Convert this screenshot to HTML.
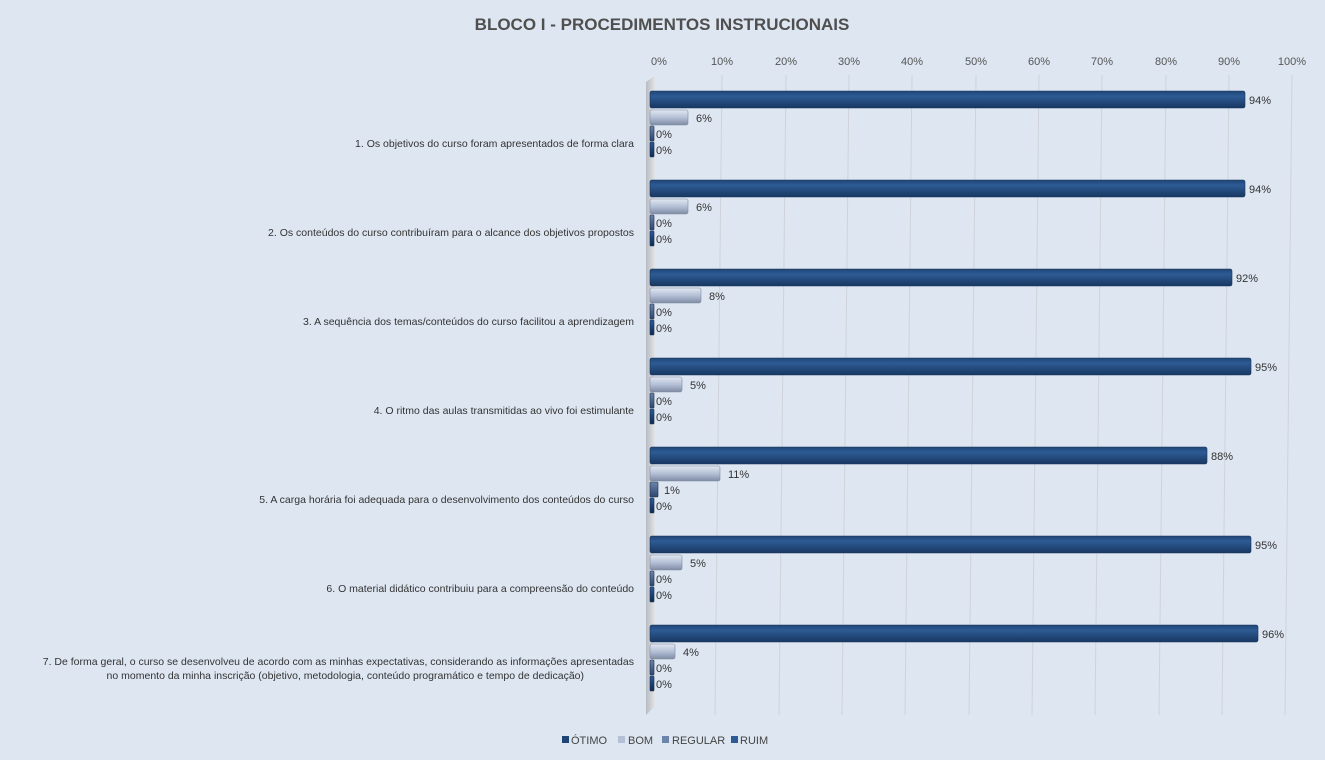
<!DOCTYPE html>
<html><head><meta charset="utf-8"><style>
body{margin:0;background:#dde6f1;}
svg{display:block;font-family:"Liberation Sans",sans-serif;}
</style></head><body>
<svg width="1325" height="760" xmlns="http://www.w3.org/2000/svg">
<defs>
<linearGradient id="o" x1="0" y1="0" x2="0" y2="1"><stop offset="0" stop-color="#1f4576"/><stop offset="0.3" stop-color="#2e5b95"/><stop offset="1" stop-color="#173761"/></linearGradient>
<linearGradient id="b" x1="0" y1="0" x2="0" y2="1"><stop offset="0" stop-color="#e2e8f2"/><stop offset="0.5" stop-color="#b4c0d6"/><stop offset="1" stop-color="#7f8ba3"/></linearGradient>
<linearGradient id="r" x1="0" y1="0" x2="0" y2="1"><stop offset="0" stop-color="#6c84aa"/><stop offset="1" stop-color="#2f4770"/></linearGradient>
<linearGradient id="u" x1="0" y1="0" x2="0" y2="1"><stop offset="0" stop-color="#2a5a9a"/><stop offset="1" stop-color="#0f2a52"/></linearGradient>
<linearGradient id="w" x1="0" y1="0" x2="1" y2="0"><stop offset="0" stop-color="#b7bcc3"/><stop offset="1" stop-color="#e6e8eb"/></linearGradient>
</defs>
<rect width="1325" height="760" fill="#dde6f1"/>
<text x="662" y="30" text-anchor="middle" font-size="17" font-weight="bold" fill="#4f4f4f">BLOCO I - PROCEDIMENTOS  INSTRUCIONAIS</text>
<g font-size="11" fill="#555" text-anchor="middle">
<text x="659" y="65">0%</text><text x="722" y="65">10%</text><text x="786" y="65">20%</text><text x="849" y="65">30%</text><text x="912" y="65">40%</text><text x="976" y="65">50%</text><text x="1039" y="65">60%</text><text x="1102" y="65">70%</text><text x="1166" y="65">80%</text><text x="1229" y="65">90%</text><text x="1292" y="65">100%</text>
</g>
<g stroke="#cfd3d9" stroke-width="1">
<line x1="722" y1="75" x2="715" y2="715"/><line x1="786" y1="75" x2="779" y2="715"/><line x1="849" y1="75" x2="842" y2="715"/><line x1="912" y1="75" x2="905" y2="715"/><line x1="976" y1="75" x2="969" y2="715"/><line x1="1039" y1="75" x2="1032" y2="715"/><line x1="1102" y1="75" x2="1095" y2="715"/><line x1="1166" y1="75" x2="1159" y2="715"/><line x1="1229" y1="75" x2="1222" y2="715"/><line x1="1292" y1="75" x2="1285" y2="715"/>
</g>
<polygon points="646,82 656,75 656,705 646,715" fill="url(#w)"/>
<g stroke-width="0.6">
<!-- group 1 top 91 -->
<rect x="650" y="91" width="595" height="17" rx="2" fill="url(#o)" stroke="#1a3358"/>
<rect x="650" y="110" width="38" height="15" rx="2" fill="url(#b)" stroke="#7f8ba3"/>
<rect x="650" y="126" width="4" height="15" rx="1" fill="url(#r)" stroke="#1a3358"/>
<rect x="650" y="142" width="4" height="15" rx="1" fill="url(#u)" stroke="#1a3358"/>
<!-- group 2 top 180 -->
<rect x="650" y="180" width="595" height="17" rx="2" fill="url(#o)" stroke="#1a3358"/>
<rect x="650" y="199" width="38" height="15" rx="2" fill="url(#b)" stroke="#7f8ba3"/>
<rect x="650" y="215" width="4" height="15" rx="1" fill="url(#r)" stroke="#1a3358"/>
<rect x="650" y="231" width="4" height="15" rx="1" fill="url(#u)" stroke="#1a3358"/>
<!-- group 3 top 269 -->
<rect x="650" y="269" width="582" height="17" rx="2" fill="url(#o)" stroke="#1a3358"/>
<rect x="650" y="288" width="51" height="15" rx="2" fill="url(#b)" stroke="#7f8ba3"/>
<rect x="650" y="304" width="4" height="15" rx="1" fill="url(#r)" stroke="#1a3358"/>
<rect x="650" y="320" width="4" height="15" rx="1" fill="url(#u)" stroke="#1a3358"/>
<!-- group 4 top 358 -->
<rect x="650" y="358" width="601" height="17" rx="2" fill="url(#o)" stroke="#1a3358"/>
<rect x="650" y="377" width="32" height="15" rx="2" fill="url(#b)" stroke="#7f8ba3"/>
<rect x="650" y="393" width="4" height="15" rx="1" fill="url(#r)" stroke="#1a3358"/>
<rect x="650" y="409" width="4" height="15" rx="1" fill="url(#u)" stroke="#1a3358"/>
<!-- group 5 top 447 -->
<rect x="650" y="447" width="557" height="17" rx="2" fill="url(#o)" stroke="#1a3358"/>
<rect x="650" y="466" width="70" height="15" rx="2" fill="url(#b)" stroke="#7f8ba3"/>
<rect x="650" y="482" width="8" height="15" rx="1" fill="url(#r)" stroke="#1a3358"/>
<rect x="650" y="498" width="4" height="15" rx="1" fill="url(#u)" stroke="#1a3358"/>
<!-- group 6 top 536 -->
<rect x="650" y="536" width="601" height="17" rx="2" fill="url(#o)" stroke="#1a3358"/>
<rect x="650" y="555" width="32" height="15" rx="2" fill="url(#b)" stroke="#7f8ba3"/>
<rect x="650" y="571" width="4" height="15" rx="1" fill="url(#r)" stroke="#1a3358"/>
<rect x="650" y="587" width="4" height="15" rx="1" fill="url(#u)" stroke="#1a3358"/>
<!-- group 7 top 625 -->
<rect x="650" y="625" width="608" height="17" rx="2" fill="url(#o)" stroke="#1a3358"/>
<rect x="650" y="644" width="25" height="15" rx="2" fill="url(#b)" stroke="#7f8ba3"/>
<rect x="650" y="660" width="4" height="15" rx="1" fill="url(#r)" stroke="#1a3358"/>
<rect x="650" y="676" width="4" height="15" rx="1" fill="url(#u)" stroke="#1a3358"/>
</g>
<g font-size="11" fill="#333">
<text x="1249" y="104">94%</text><text x="696" y="122">6%</text><text x="656" y="138">0%</text><text x="656" y="154">0%</text>
<text x="1249" y="193">94%</text><text x="696" y="211">6%</text><text x="656" y="227">0%</text><text x="656" y="243">0%</text>
<text x="1236" y="282">92%</text><text x="709" y="300">8%</text><text x="656" y="316">0%</text><text x="656" y="332">0%</text>
<text x="1255" y="371">95%</text><text x="690" y="389">5%</text><text x="656" y="405">0%</text><text x="656" y="421">0%</text>
<text x="1211" y="460">88%</text><text x="728" y="478">11%</text><text x="664" y="494">1%</text><text x="656" y="510">0%</text>
<text x="1255" y="549">95%</text><text x="690" y="567">5%</text><text x="656" y="583">0%</text><text x="656" y="599">0%</text>
<text x="1262" y="638">96%</text><text x="683" y="656">4%</text><text x="656" y="672">0%</text><text x="656" y="688">0%</text>
</g>
<g font-size="10.5" fill="#333" text-anchor="end">
<text x="634" y="147">1. Os objetivos do curso foram apresentados de forma clara</text>
<text x="634" y="236">2. Os conteúdos do curso contribuíram para o alcance dos objetivos propostos</text>
<text x="634" y="325">3. A sequência dos temas/conteúdos do curso facilitou a aprendizagem</text>
<text x="634" y="414">4. O ritmo das aulas transmitidas ao vivo foi estimulante</text>
<text x="634" y="503">5. A carga horária foi adequada para o desenvolvimento dos conteúdos do curso</text>
<text x="634" y="592">6. O material didático contribuiu para a compreensão do conteúdo</text>
<text x="634" y="665">7. De forma geral, o curso se desenvolveu de acordo com as minhas expectativas, considerando as informações apresentadas</text>
<text x="584" y="679">no momento da minha inscrição (objetivo, metodologia, conteúdo programático e tempo de dedicação)</text>
</g>
<g font-size="11" fill="#444">
<rect x="562" y="736" width="7" height="7" fill="#1f4576"/><text x="571" y="744">ÓTIMO</text>
<rect x="618" y="736" width="7" height="7" fill="#b4c0d6"/><text x="628" y="744">BOM</text>
<rect x="662" y="736" width="7" height="7" fill="#6c84aa"/><text x="672" y="744">REGULAR</text>
<rect x="731" y="736" width="7" height="7" fill="#2e5b95"/><text x="740" y="744">RUIM</text>
</g>
</svg>
</body></html>
